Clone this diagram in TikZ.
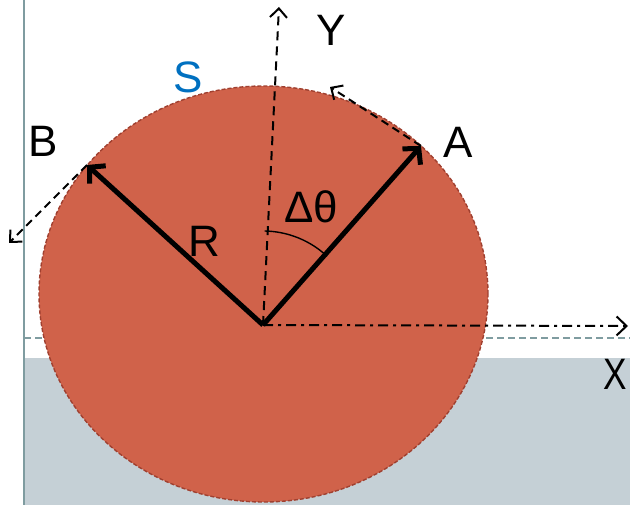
\documentclass[tikz,border=0pt]{standalone}
\usepackage{fontspec}
\setmainfont{Liberation Sans}
\usetikzlibrary{arrows.meta}
\definecolor{discfill}{RGB}{208,98,74}
\definecolor{discedge}{RGB}{160,64,48}
\definecolor{ground}{RGB}{197,208,214}
\definecolor{wall}{RGB}{127,156,160}
\definecolor{sblue}{RGB}{0,112,192}
\tikzset{
  lbl/.style={font=\fontsize{44}{44}\selectfont, inner sep=0pt},
  radius arrow/.style={line width=5pt, -{Straight Barb[length=11pt,width=24pt,line width=5pt]}},
  dash arrow/.style={line width=2pt, dash pattern=on 8pt off 5pt, -{Straight Barb[length=9pt,width=17pt,line width=2pt]}},
}
\begin{document}
\begin{tikzpicture}[x=1pt,y=-1pt]
\useasboundingbox (0,0) rectangle (630,505);
\clip (0,0) rectangle (630,505);
% ground and wall
\fill[ground] (24,358) rectangle (630,505);
\draw[wall, line width=1.8pt] (24,0) -- (24,505);
\draw[wall, line width=1.8pt, dash pattern=on 7pt off 4pt] (24,338) -- (630,338);
% disc
\draw[discedge, fill=discfill, line width=1.4pt, dash pattern=on 4pt off 2pt] (263.5,294) ellipse [x radius=224.5pt, y radius=208pt];
% points
\coordinate (O) at (263,325);
\coordinate (A) at (421,146);
\coordinate (B) at (87,165);
\coordinate (Ytip) at (279,7);
\coordinate (Xtip) at (628,326);
\coordinate (Atan) at (330,87);
\coordinate (Btan) at (9,243);
% axes
\draw[line width=2pt, dash pattern=on 9pt off 6pt, -{Straight Barb[length=9pt,width=17pt,line width=2pt]}] (O) -- (Ytip);
\draw[line width=2pt, dash pattern=on 10pt off 5pt on 3pt off 5pt, -{Straight Barb[length=10pt,width=19pt,line width=2pt]}] (O) -- (Xtip);
% tangents
\draw[dash arrow] (A) -- (Atan);
\draw[dash arrow] (B) -- (Btan);
% radii
\draw[radius arrow] (O) -- (A);
\draw[radius arrow] (O) -- (B);
% angle arc
\draw[line width=1.4pt] (O) ++(1.6,-94) arc[start angle=89, end angle=47, radius=94pt];
% labels
\node[lbl] (Ylab) at (331,30) {Y};
\node[lbl, text=sblue] (Slab) at (188,77) {S};
\node[lbl] (Blab) at (43,141) {B};
\node[lbl] (Alab) at (458,142) {A};
\node[lbl] (Rlab) at (204,241) {R};
\node[lbl] (Tlab) at (311,207) {Δθ};
\node[lbl, xscale=0.8] (Xlab) at (615,374) {X};
\end{tikzpicture}
\end{document}
